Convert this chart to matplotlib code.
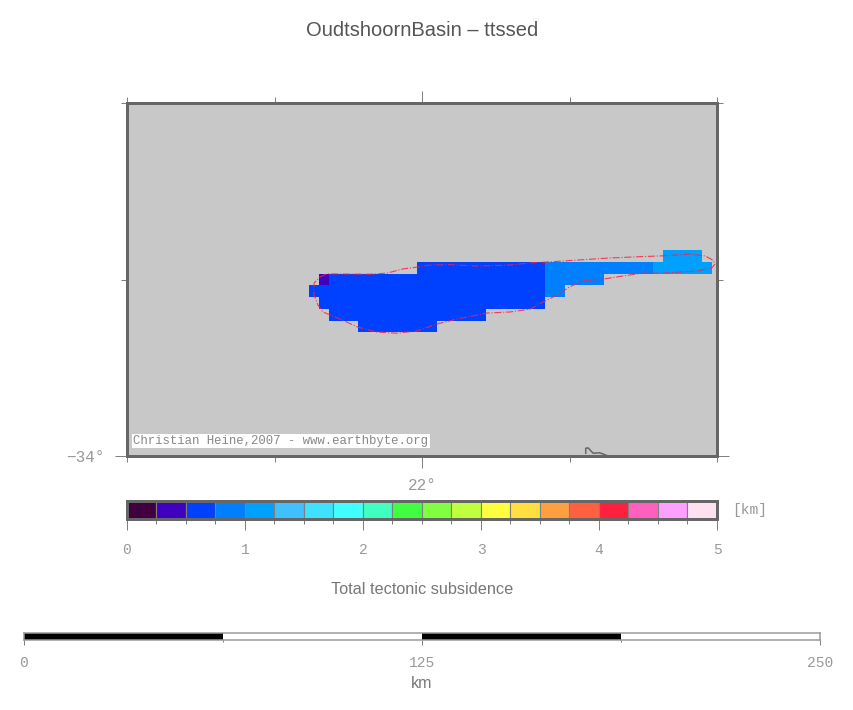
"""
OudtshoornBasin - ttssed map, total tectonic subsidence on a 2 arcmin grid
with colour bar and distance scale underneath.
"""

import numpy as np
import matplotlib
matplotlib.use("Agg")
import matplotlib.pyplot as plt
from matplotlib.colors import BoundaryNorm, ListedColormap

# ─── Data ────────────────────────────────────────────────────────────────────
TITLE = "OudtshoornBasin \u2013 ttssed"
CREDIT = "Christian Heine,2007 - www.earthbyte.org"
CBAR_LABEL = "Total tectonic subsidence"

# grid nodes: lon = 21 + col / 30, lat = -34 + row / 30
# runs of equal subsidence: row, first col, last col, value [km]
cell_rows = [17, 16, 16, 16, 15, 15, 15, 14, 14, 13, 12, 11]
cell_first = [55, 30, 43, 54, 20, 21, 43, 19, 43, 20, 21, 24]
cell_last = [58, 42, 53, 59, 20, 42, 48, 42, 44, 42, 36, 31]
cell_values = [1.1, 0.6, 0.85, 1.1, 0.35, 0.6, 0.85, 0.6, 0.85, 0.6, 0.6, 0.6]

basin_lon = [21.654, 21.678, 21.824, 21.881, 21.936, 21.983, 22.027, 22.095, 22.186,
             22.298, 22.366, 22.434, 22.525, 22.637, 22.749, 22.817, 22.908, 22.959,
             22.986, 22.993, 22.983, 22.932, 22.817, 22.749, 22.681, 22.614, 22.546,
             22.502, 22.458, 22.410, 22.366, 22.298, 22.220, 22.119, 22.051, 21.983,
             21.915, 21.847, 21.783, 21.722, 21.664, 21.647, 21.634, 21.634, 21.654]
basin_lat = [-33.493, -33.484, -33.485, -33.482, -33.470, -33.465, -33.459, -33.458, -33.462,
             -33.459, -33.453, -33.450, -33.445, -33.439, -33.435, -33.433, -33.428, -33.433,
             -33.445, -33.456, -33.467, -33.476, -33.482, -33.482, -33.490, -33.499, -33.504,
             -33.520, -33.544, -33.564, -33.584, -33.592, -33.595, -33.612, -33.626, -33.646,
             -33.652, -33.649, -33.635, -33.612, -33.592, -33.572, -33.544, -33.510, -33.493]

coast_lon = [22.555, 22.555, 22.563, 22.580, 22.603, 22.631]
coast_lat = [-33.992, -33.978, -33.977, -33.992, -33.991, -34.0]

cbar_edges = [0, 0.25, 0.5, 0.75, 1, 1.25, 1.5, 1.75, 2, 2.25, 2.5, 2.75, 3, 3.25, 3.5,
              3.75, 4, 4.25, 4.5, 4.75, 5]
cbar_colors = ["#400040", "#4000c0", "#0040ff", "#0080ff", "#00a0ff", "#40c0ff", "#40e0ff",
               "#40ffff", "#40ffc0", "#40ff40", "#80ff40", "#c0ff40", "#ffff40", "#ffe040",
               "#ffa040", "#ff6040", "#ff2040", "#ff60c0", "#ffa0ff", "#ffe0f0"]
cbar_ticks = [0, 1, 2, 3, 4, 5]

scale_edges = [0, 62.5, 125, 187.5, 250]
scale_colors = ["black", "white", "black", "white"]
scale_ticks = [0, 125, 250]

# ─── Style ───────────────────────────────────────────────────────────────────
W, H = 854, 710
FRAME = "#666666"
TICK = "#808080"
MONO = "#999999"
SANS = "#777777"
PX = 0.72  # points per pixel at dpi 100


def axes_px(fig, left, top, right, bottom):
    return fig.add_axes([left / W, 1 - bottom / H, (right - left) / W, (bottom - top) / H])


def set_frame(ax, width_px):
    for spine in ax.spines.values():
        spine.set_color(FRAME)
        spine.set_linewidth(width_px * PX)


def build_grid():
    grid = np.full((31, 61), np.nan)
    for row, first, last, value in zip(cell_rows, cell_first, cell_last, cell_values):
        grid[row, first:last + 1] = value
    return grid


def draw_map(fig, cmap, norm):
    ax = axes_px(fig, 127, 103, 717, 456)
    ax.set_facecolor("#c8c8c8")
    lons = 21 + np.arange(61) / 30
    lats = -34 + np.arange(31) / 30
    ax.pcolormesh(lons, lats, np.ma.masked_invalid(build_grid()), cmap=cmap, norm=norm,
                  shading="nearest")
    ax.plot(basin_lon, basin_lat, color="#ff2040", lw=0.8, ls="-.", alpha=0.85)
    ax.plot(coast_lon, coast_lat, color=FRAME, lw=1.1)
    ax.set_xlim(21, 23)
    ax.set_ylim(-34, -33)

    ax.set_xticks([22], ["22\u00b0"], family="Liberation Mono", fontsize=11.5, color=MONO)
    ax.set_xticks([21, 21.5, 22.5, 23], minor=True)
    ax.set_yticks([-34], ["\u221234\u00b0"], family="Liberation Mono", fontsize=11.5, color=MONO)
    ax.set_yticks([-33.5, -33], minor=True)
    ax.tick_params(which="major", top=True, right=True, length=12 * PX, width=1 * PX,
                   color=TICK, pad=7.5)
    ax.tick_params(which="minor", top=True, right=True, length=6 * PX, width=1 * PX, color=TICK)
    set_frame(ax, 3)

    ax.text(0.0105, 0.0255, CREDIT, transform=ax.transAxes, family="Liberation Mono",
            fontsize=8.9, color="#888888", va="bottom", ha="left",
            bbox=dict(facecolor="white", edgecolor="none", pad=1.0))


def draw_colorbar(fig):
    ax = axes_px(fig, 127, 501, 717, 519)
    ax.bar(cbar_edges[:-1], 1, width=np.diff(cbar_edges), align="edge", color=cbar_colors,
           edgecolor=TICK, linewidth=0.8)
    ax.set_xlim(cbar_edges[0], cbar_edges[-1])
    ax.set_ylim(0, 1)
    ax.set_yticks([])
    ax.set_xticks(cbar_ticks, [str(t) for t in cbar_ticks], family="Liberation Mono",
                  fontsize=10.5, color=MONO)
    ax.set_xticks(cbar_edges, minor=True)
    ax.tick_params(which="major", length=11 * PX, width=1 * PX, color=TICK, pad=9)
    ax.tick_params(which="minor", length=5 * PX, width=1 * PX, color=TICK)
    set_frame(ax, 3)
    ax.text(732 / W, 1 - 510 / H, "[km]", transform=fig.transFigure, family="Liberation Mono",
            fontsize=10.5, color=MONO, va="center", ha="left")
    fig.text(422 / W, 1 - 589 / H, CBAR_LABEL, family="Liberation Sans", fontsize=11.7,
             color=SANS, ha="center", va="center")


def draw_scale(fig):
    ax = axes_px(fig, 24, 633, 820, 640)
    ax.bar(scale_edges[:-1], 1, width=np.diff(scale_edges), align="edge", color=scale_colors,
           edgecolor="none")
    ax.set_xlim(scale_edges[0], scale_edges[-1])
    ax.set_ylim(0, 1)
    ax.set_yticks([])
    ax.set_xticks(scale_ticks, [str(t) for t in scale_ticks], family="Liberation Mono",
                  fontsize=10.5, color=MONO)
    ax.set_xticks(scale_edges, minor=True)
    ax.tick_params(which="major", length=5 * PX, width=1 * PX, color=TICK, pad=8)
    ax.tick_params(which="minor", length=2 * PX, width=1 * PX, color=TICK)
    set_frame(ax, 1.5)
    for spine in ax.spines.values():
        spine.set_color("#999999")
    fig.text(422 / W, 1 - 684 / H, "km", family="Liberation Sans", fontsize=11.5,
             color=SANS, ha="center", va="center")


def main():
    fig = plt.figure(figsize=(W / 100, H / 100), dpi=100)
    cmap = ListedColormap(cbar_colors)
    norm = BoundaryNorm(cbar_edges, cmap.N)

    fig.text(422 / W, 1 - 31 / H, TITLE, family="Liberation Sans", fontsize=14.5,
             color="#555555", ha="center", va="center")
    draw_map(fig, cmap, norm)
    draw_colorbar(fig)
    draw_scale(fig)
    fig.savefig("out.png", dpi=100)


if __name__ == "__main__":
    main()
